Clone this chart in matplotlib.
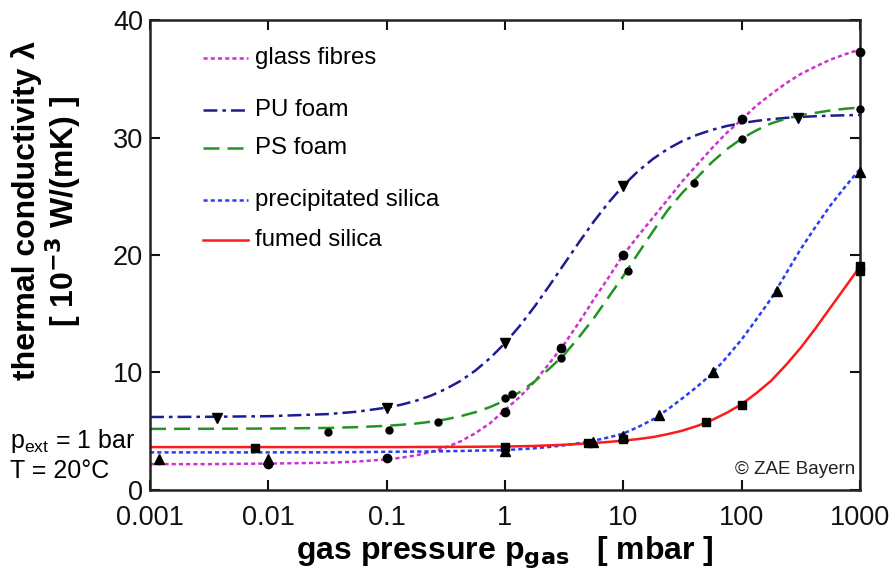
import numpy as np
from matplotlib import pyplot as plt

plt.rcParams['font.family'] = ['Liberation Sans', 'DejaVu Sans']
plt.rcParams['lines.scale_dashes'] = False

# gas pressure grid for the fitted curves (mbar), eighth decades above 0.1
p_fit = [0.001, 0.0032, 0.01, 0.032, 0.056,
         0.1, 0.133, 0.178, 0.237, 0.316, 0.422, 0.562, 0.75,
         1, 1.33, 1.78, 2.37, 3.16, 4.22, 5.62, 7.5,
         10, 13.3, 17.8, 23.7, 31.6, 42.2, 56.2, 75,
         100, 133, 178, 237, 316, 422, 562, 750, 1000]

# fitted thermal conductivity, 1e-3 W/(mK)
glass_fit = [2.2, 2.2, 2.25, 2.32, 2.42,
             2.60, 2.75, 2.95, 3.24, 3.62, 4.14, 4.83, 5.69,
             6.81, 7.91, 9.22, 10.77, 12.39, 14.25, 16.20, 18.07,
             20.01, 21.60, 23.17, 24.71, 26.28, 27.69, 29.09, 30.40,
             31.51, 32.70, 33.69, 34.61, 35.40, 36.04, 36.62, 37.08, 37.50]
pu_fit = [6.21, 6.23, 6.28, 6.46, 6.66,
          7.01, 7.26, 7.60, 8.03, 8.59, 9.29, 10.16, 11.23,
          12.49, 13.95, 15.61, 17.38, 19.22, 21.07, 22.83, 24.45,
          25.90, 27.12, 28.17, 29.02, 29.70, 30.23, 30.65, 30.98,
          31.22, 31.41, 31.56, 31.67, 31.75, 31.81, 31.86, 31.89, 31.92]
ps_fit = [5.20, 5.21, 5.23, 5.28, 5.35,
          5.46, 5.55, 5.66, 5.81, 6.01, 6.28, 6.62, 7.06,
          7.62, 8.33, 9.23, 10.32, 11.5, 13.0, 14.6, 16.4,
          18.2, 20.1, 22.0, 23.8, 25.3, 26.6, 27.9, 29.0,
          29.9, 30.6, 31.2, 31.6, 31.9, 32.1, 32.3, 32.45, 32.55]
precip_fit = [3.2, 3.2, 3.2, 3.21, 3.22,
              3.25, 3.26, 3.27, 3.28, 3.3, 3.32, 3.35, 3.37,
              3.4, 3.47, 3.55, 3.66, 3.8, 3.98, 4.2, 4.47,
              4.8, 5.35, 6.0, 6.85, 7.8, 8.8, 9.9, 11.3,
              12.8, 14.5, 16.3, 18.4, 20.5, 22.4, 24.2, 25.8, 27.3]
fumed_fit = [3.65, 3.65, 3.65, 3.65, 3.65,
             3.65, 3.65, 3.66, 3.66, 3.67, 3.67, 3.68, 3.69,
             3.7, 3.72, 3.75, 3.8, 3.85, 3.92, 4.0, 4.09,
             4.2, 4.33, 4.5, 4.75, 5.05, 5.45, 5.95, 6.57,
             7.3, 8.23, 9.3, 10.63, 12.1, 13.76, 15.5, 17.25, 19.0]

# measured points
glass_p = [0.01, 0.1, 1, 3, 10, 100, 1000]
glass_l = [2.2, 2.7, 6.6, 12.1, 20.0, 31.6, 37.3]
pu_p = [0.0037, 0.1, 1, 10, 300]
pu_l = [6.1, 7.0, 12.5, 25.9, 31.7]
ps_p = [0.032, 0.105, 0.27, 1, 1.15, 3, 11, 40, 100, 1000]
ps_l = [4.9, 5.1, 5.8, 7.8, 8.2, 11.2, 18.6, 26.1, 29.9, 32.4]
precip_p = [0.0012, 0.01, 1, 5.5, 10, 20, 57, 200, 1000]
precip_l = [2.6, 2.6, 3.3, 4.1, 4.6, 6.4, 10.0, 16.9, 27.1]
fumed_p = [0.0077, 1, 5, 10, 50, 100, 1000, 1000]
fumed_l = [3.6, 3.7, 4.0, 4.3, 5.8, 7.2, 19.1, 18.6]

x_ticks = [0.001, 0.01, 0.1, 1, 10, 100, 1000]
x_labels = ['0.001', '0.01', '0.1', '1', '10', '100', '1000']
y_ticks = [0, 10, 20, 30, 40]

names = ['glass fibres', 'PU foam', 'PS foam', 'precipitated silica', 'fumed silica']
colors = ['#cc33cc', '#1c1c94', '#229422', '#2a3cf5', '#ff1a1a']
dashes = [(3, 2.2), (10, 3.6, 2.6, 3.6), (11.5, 5.8), (3, 2.2), None]
fits = [glass_fit, pu_fit, ps_fit, precip_fit, fumed_fit]
legend_y = [0.919, 0.8085, 0.7277, 0.617, 0.532]

fig = plt.figure(figsize=(8.94, 5.8), dpi=100)
ax = fig.add_axes([0.1678, 0.1552, 0.794, 0.8103])
ax.set_xscale('log')

for name, col, d, lam, ly in zip(names, colors, dashes, fits, legend_y):
    line, = ax.plot(p_fit, lam, color=col, lw=1.8, zorder=2)
    key, = ax.plot([0.0746, 0.138], [ly, ly], color=col, lw=1.8,
                   transform=ax.transAxes)
    if d is not None:
        line.set_dashes(d)
        key.set_dashes(d)
    ax.text(0.148, ly, name, transform=ax.transAxes, fontsize=17.3,
            va='center', ha='left')

mk = dict(color='black', ls='none', zorder=4, clip_on=False)
ax.plot(glass_p, glass_l, marker='o', ms=6, **mk)
ax.plot(pu_p, pu_l, marker='v', ms=7, **mk)
ax.plot(ps_p, ps_l, marker='o', ms=5, **mk)
ax.plot(precip_p, precip_l, marker='^', ms=6.5, **mk)
ax.plot(fumed_p, fumed_l, marker='s', ms=6, **mk)

ax.set_xlim(0.001, 1000)
ax.set_ylim(0, 40)
ax.set_xticks(x_ticks)
ax.set_xticklabels(x_labels)
ax.set_yticks(y_ticks)
ax.minorticks_off()
ax.tick_params(direction='in', length=7, width=1.5, top=True, right=True,
               labelsize=19.5, pad=5, colors='#111111')
ax.tick_params(axis='x', pad=11)
for s in ax.spines.values():
    s.set_linewidth(1.8)
    s.set_color('#222222')

fig.text(27 / 894, 1 - 211 / 580, 'thermal conductivity λ', rotation=90,
         fontsize=23, fontweight='bold', ha='center', va='center')
fig.text(63 / 894, 1 - 211 / 580, '[ 10$^{\\mathbf{-3}}$ W/(mK) ]', rotation=90,
         fontsize=23, fontweight='bold', ha='center', va='center')
fig.text(505 / 894, 1 - 552 / 580,
         'gas pressure p$_{\\mathbf{gas}}$   [ mbar ]',
         fontsize=23, fontweight='bold', ha='center', va='center')

fig.text(10 / 894, 1 - 448 / 580, 'p$_{\\mathregular{ext}}$ = 1 bar',
         fontsize=18, ha='left', va='baseline')
fig.text(10 / 894, 1 - 478 / 580, 'T = 20°C', fontsize=18, ha='left',
         va='baseline')
ax.text(0.993, 0.025, '© ZAE Bayern', transform=ax.transAxes, fontsize=13.5,
        ha='right', va='bottom', color='#222222')

fig.savefig('out.png', dpi=100)
